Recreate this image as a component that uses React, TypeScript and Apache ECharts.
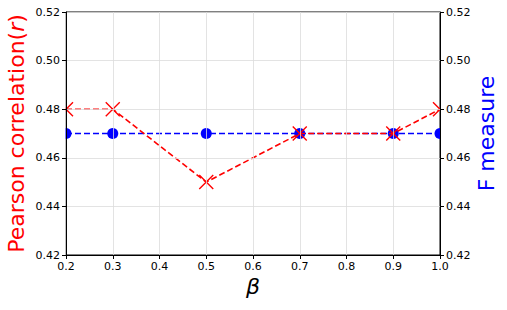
import React, { useEffect, useRef } from "react";
import * as echarts from "echarts";

const betaValues = [0.2, 0.3, 0.5, 0.7, 0.9, 1.0];
const pearsonValues = [0.48, 0.48, 0.45, 0.47, 0.47, 0.48];
const fMeasureValues = [0.47, 0.47, 0.47, 0.47, 0.47, 0.47];
const xTicks = { min: 0.2, max: 1.0, interval: 0.1 };
const yTicks = { min: 0.42, max: 0.52, interval: 0.02 };

const FONT = "DejaVu Sans";
const W = 507;
const H = 310;
const G = { left: 66, right: 67, top: 12, bottom: 55 };

export default function App() {
  const ref = useRef<HTMLDivElement>(null);
  useEffect(() => {
    if (!ref.current) return;
    const chart = echarts.init(ref.current, null, { renderer: "svg" });
    const axisLabel = { color: "#000", fontFamily: FONT, fontSize: 11, margin: 6 };
    const axisLine = { show: true, onZero: false, lineStyle: { color: "#000", width: 1 } };
    const axisTick = { show: true, length: 4, lineStyle: { color: "#000" } };
    const splitLine = { show: true, lineStyle: { color: "#dcdcdc", width: 0.8 } };
    const plotLeft = G.left;
    const plotRight = W - G.right;
    chart.setOption({
      animation: false,
      backgroundColor: "#fff",
      grid: {
        left: G.left,
        right: G.right,
        top: G.top,
        bottom: G.bottom,
        containLabel: false,
        outerBoundsMode: "none",
        show: true,
        borderColor: "#000",
        borderWidth: 1,
        backgroundColor: "transparent",
      },
      graphic: [
        {
          type: "rect",
          z: 5,
          shape: { x: plotLeft - 10, y: G.top, width: 9.5, height: H - G.top - G.bottom },
          style: { fill: "#fff" },
        },
        {
          type: "rect",
          z: 5,
          shape: { x: plotRight + 0.5, y: G.top, width: 10, height: H - G.top - G.bottom },
          style: { fill: "#fff" },
        },
      ],
      xAxis: {
        type: "value",
        z: 10,
        min: xTicks.min,
        max: xTicks.max,
        interval: xTicks.interval,
        axisLine,
        axisTick,
        splitLine,
        axisLabel: { ...axisLabel, formatter: (v: number) => v.toFixed(1) },
        name: "β",
        nameLocation: "middle",
        nameMoveOverlap: false,
        nameGap: 20,
        nameTextStyle: { fontFamily: FONT, fontSize: 22, fontStyle: "italic", color: "#000" },
      },
      yAxis: [
        {
          type: "value",
          position: "left",
          z: 10,
          min: yTicks.min,
          max: yTicks.max,
          interval: yTicks.interval,
          axisLine,
          axisTick,
          splitLine,
          axisLabel: { ...axisLabel, formatter: (v: number) => v.toFixed(2) },
          name: "{a|Pearson correlation(}{b|r}{a|)}",
          nameLocation: "middle",
          nameMoveOverlap: false,
          nameRotate: 90,
          nameGap: 39,
          nameTextStyle: {
            color: "red",
            fontFamily: FONT,
            fontSize: 22,
            rich: {
              a: { color: "red", fontFamily: FONT, fontSize: 22 },
              b: { color: "red", fontFamily: FONT, fontSize: 22, fontStyle: "italic" },
            },
          },
        },
        {
          type: "value",
          position: "right",
          z: 10,
          min: yTicks.min,
          max: yTicks.max,
          interval: yTicks.interval,
          axisLine,
          axisTick,
          splitLine: { show: false },
          axisLabel: { ...axisLabel, formatter: (v: number) => v.toFixed(2) },
          name: "F measure",
          nameLocation: "middle",
          nameMoveOverlap: false,
          nameRotate: 90,
          nameGap: 35,
          nameTextStyle: { color: "blue", fontFamily: FONT, fontSize: 22 },
        },
      ],
      series: [
        {
          type: "line",
          yAxisIndex: 1,
          z: 2,
          data: betaValues.map((b, i) => [b, fMeasureValues[i]]),
          symbol: "circle",
          symbolSize: 11,
          showAllSymbol: true,
          lineStyle: { color: "blue", width: 1.6, type: [6, 3] },
          itemStyle: { color: "blue", borderWidth: 0 },
        },
        {
          type: "line",
          yAxisIndex: 0,
          z: 3,
          data: betaValues.map((b, i) => [b, pearsonValues[i]]),
          symbol: "path://M0,0L10,10M10,0L0,10",
          symbolSize: 14,
          showAllSymbol: true,
          lineStyle: { color: "red", width: 1.6, type: [6, 3] },
          itemStyle: { color: "red", borderColor: "red", borderWidth: 1.4 },
        },
      ],
    });
    return () => chart.dispose();
  }, []);
  return (
    <div
      ref={ref}
      style={{ position: "fixed", left: 0, top: 0, width: W, height: H, background: "#fff" }}
    />
  );
}
